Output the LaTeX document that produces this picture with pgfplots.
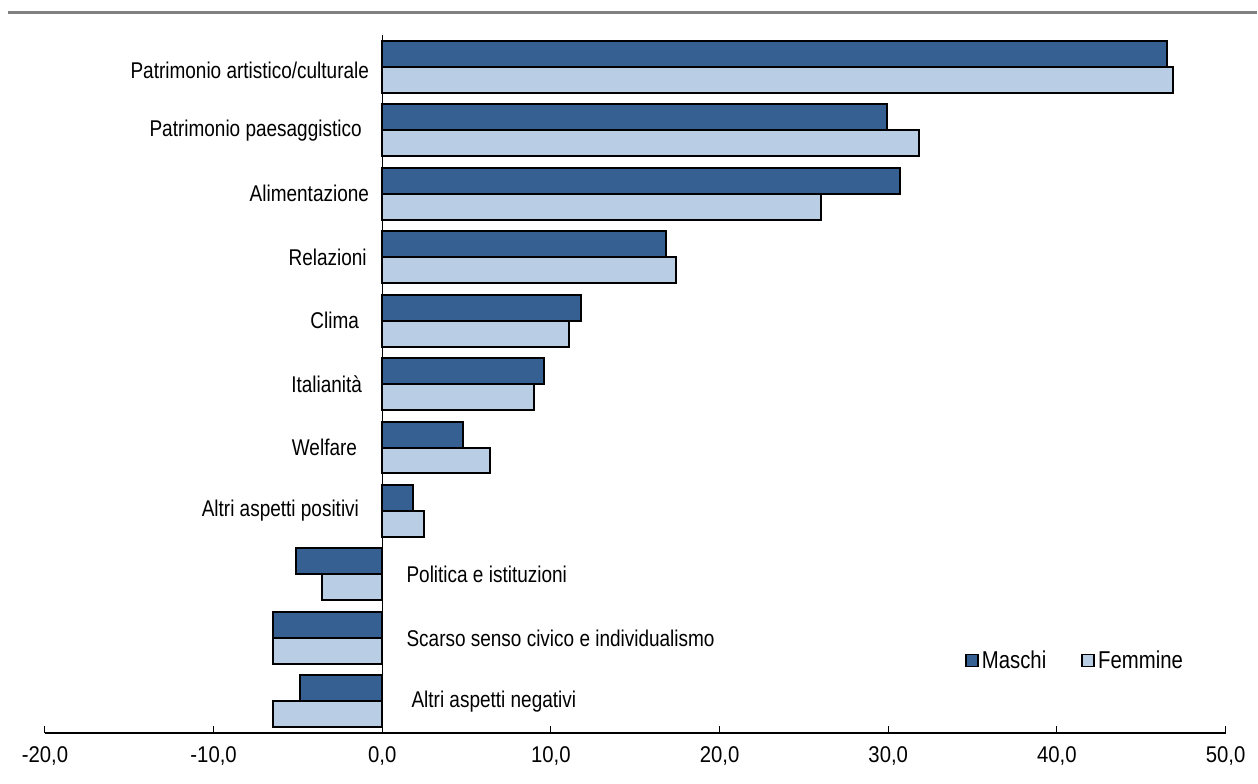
\documentclass[border=0pt]{standalone}
\usepackage{pgfplots}
\pgfplotsset{compat=1.18}
\usepackage{fontspec}
\setmainfont{Liberation Sans}

\definecolor{maschi}{RGB}{54,96,146}
\definecolor{femmine}{RGB}{185,205,229}
\definecolor{rule}{RGB}{128,128,128}

% the chart's lettering is a narrow, tall sans
\newcommand\tall[1]{\scalebox{1}[1.2]{#1}}
\newcommand\ticklab[1]{\scalebox{1}[1.12]{#1}}

\begin{document}
\begin{tikzpicture}
\begin{axis}[
  scale only axis,
  width=709.2pt, height=419.4pt,
  xmin=-20, xmax=50,
  ymin=-0.5, ymax=10.5,
  axis x line=bottom,
  axis y line=none,
  x axis line style={-, line width=0.9pt},
  xtick={-20,-10,0,10,20,30,40,50},
  xticklabels={{\ticklab{-20,0}},{\ticklab{-10,0}},{\ticklab{0,0}},{\ticklab{10,0}},
               {\ticklab{20,0}},{\ticklab{30,0}},{\ticklab{40,0}},{\ticklab{50,0}}},
  xtick align=inside,
  major tick length=4.2pt,
  every tick/.style={black, line width=0.6pt},
  xticklabel style={font=\fontsize{12.2}{14}\selectfont, yshift=-4.5pt},
  ytick=\empty,
  xbar,
  bar width=15.6pt,
  clip=false,
  legend columns=2,
  legend style={draw=none, fill=none, inner sep=0pt,
    at={(0.779,0.104)}, anchor=west,
    font=\fontsize{12.2}{14}\selectfont,
    /tikz/every even column/.append style={column sep=19pt}},
  legend image code/.code={\draw[#1, line width=1pt] (0pt,-3.6pt) rectangle (7.2pt,3.6pt);},
]
\addplot[fill=maschi, draw=black, line width=1.2pt, bar shift=7.8pt] coordinates {
  (46.5,10) (29.9,9) (30.7,8) (16.8,7) (11.8,6) (9.6,5)
  (4.8,4) (1.8,3) (-5.1,2) (-6.5,1) (-4.9,0)
};
\addplot[fill=femmine, draw=black, line width=1.2pt, bar shift=-7.8pt] coordinates {
  (46.9,10) (31.8,9) (26.0,8) (17.4,7) (11.1,6) (9.0,5)
  (6.4,4) (2.5,3) (-3.6,2) (-6.5,1) (-6.5,0)
};
\legend{\tall{Maschi}, \tall{Femmine}}

% zero line
\draw[black, line width=0.6pt] (axis cs:0,10.5) -- (axis cs:0,-0.5);

% category names
\begin{scope}[every node/.style={font=\fontsize{11.4}{13}\selectfont, inner sep=0pt}]
\node[anchor=east] at ([xshift=-7.8pt,yshift=-2pt]axis cs:0,10) {\tall{Patrimonio artistico/culturale}};
\node[anchor=east] at ([xshift=-12.2pt]axis cs:0,9) {\tall{Patrimonio paesaggistico}};
\node[anchor=east] at ([xshift=-7.8pt]axis cs:0,8) {\tall{Alimentazione}};
\node[anchor=east] at ([xshift=-9.2pt]axis cs:0,7) {\tall{Relazioni}};
\node[anchor=east] at ([xshift=-13.8pt]axis cs:0,6) {\tall{Clima}};
\node[anchor=east] at ([xshift=-12pt]axis cs:0,5) {\tall{Italianità}};
\node[anchor=east] at ([xshift=-15pt]axis cs:0,4) {\tall{Welfare}};
\node[anchor=east] at ([xshift=-13.8pt]axis cs:0,3) {\tall{Altri aspetti positivi}};
\node[anchor=west] at ([xshift=14.4pt]axis cs:0,2) {\tall{Politica e istituzioni}};
\node[anchor=west] at ([xshift=14.4pt]axis cs:0,1) {\tall{Scarso senso civico e individualismo}};
\node[anchor=west] at ([xshift=17.4pt]axis cs:0,0) {\tall{Altri aspetti negativi}};
\end{scope}
\end{axis}
% page frame and grey rule across the top (units of 0.6pt, origin at the axis corner)
\begin{scope}[x=0.6pt,y=0.6pt]
\path (-45,-50) rectangle (1213,734);
\draw[rule, line width=1.8pt] (-37,721.3) -- (1213,721.3);
\end{scope}
\end{tikzpicture}
\end{document}
